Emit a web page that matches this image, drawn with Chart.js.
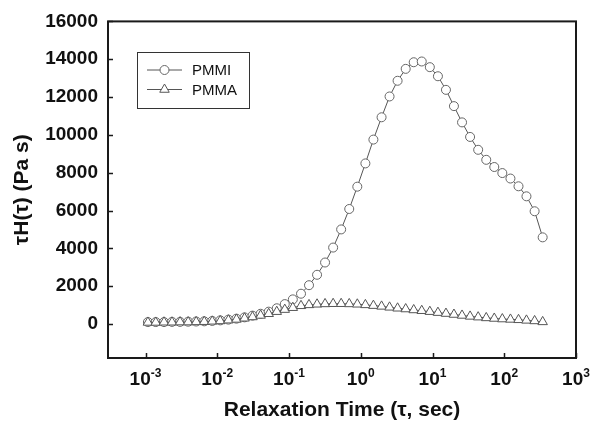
<!DOCTYPE html>
<html>
<head>
<meta charset="utf-8">
<script src="https://cdn.jsdelivr.net/npm/chart.js@4.4.1/dist/chart.umd.min.js"></script>
<style>
  html, body { margin: 0; padding: 0; background: #fff; }
  #wrap { width: 590px; height: 427px; }
</style>
</head>
<body>
<div id="wrap"><canvas id="chart" width="590" height="427"></canvas></div>
<script>
// relaxation times (s)
const tau = [
  0.00108, 0.00139, 0.00181, 0.00234, 0.00303, 0.00393, 0.00508, 0.00658, 0.00851, 0.0110,
  0.0143, 0.0185, 0.0240, 0.0310, 0.0402, 0.0521, 0.0675, 0.0873, 0.113, 0.147,
  0.190, 0.246, 0.318, 0.412, 0.533, 0.691, 0.895, 1.16, 1.50, 1.95,
  2.52, 3.26, 4.23, 5.47, 7.08, 9.18, 11.9, 15.4, 19.9, 25.8,
  33.4, 43.3, 56.1, 72.6, 94.0, 122, 158, 204, 265, 343
];
const pmmi = [
  100, 100, 100, 110, 110, 120, 130, 140, 160, 190,
  230, 280, 350, 440, 540, 650, 830, 1050, 1300, 1600,
  2050, 2600, 3250, 4040, 5000, 6080, 7260, 8490, 9750, 10930,
  12030, 12860, 13490, 13840, 13880, 13580, 13100, 12380, 11520, 10660,
  9890, 9210, 8680, 8300, 7980, 7690, 7280, 6750, 5960, 4580
];
const pmma = [
  80, 80, 90, 90, 100, 100, 110, 120, 140, 160,
  200, 240, 300, 370, 450, 540, 650, 760, 860, 960,
  1010, 1040, 1060, 1070, 1070, 1060, 1040, 1010, 970, 930,
  880, 830, 790, 740, 700, 650, 600, 550, 500, 450,
  400, 360, 320, 290, 260, 240, 220, 190, 160, 110
];
const seriesNames = ['PMMI', 'PMMA'];
const xExps = [-3, -2, -1, 0, 1, 2, 3];
const yTicks = [0, 2000, 4000, 6000, 8000, 10000, 12000, 14000, 16000];

const FONT = '"Liberation Sans", Arial, Helvetica, sans-serif';

const frame = {
  id: 'frame',
  afterDraw(chart) {
    const ctx = chart.ctx;
    const a = chart.chartArea;
    const xs = chart.scales.x, ys = chart.scales.y;
    ctx.save();
    ctx.strokeStyle = '#1a1a1a';
    ctx.lineWidth = 2;
    ctx.strokeRect(a.left, a.top, a.right - a.left, a.bottom - a.top);

    // inward ticks
    ctx.lineWidth = 1.5;
    ctx.beginPath();
    xExps.forEach(e => {
      const px = Math.round(xs.getPixelForValue(Math.pow(10, e))) + 0.5;
      ctx.moveTo(px, a.bottom);
      ctx.lineTo(px, a.bottom - 5);
    });
    yTicks.forEach(v => {
      const py = Math.round(ys.getPixelForValue(v)) + 0.5;
      ctx.moveTo(a.left, py);
      ctx.lineTo(a.left + 5, py);
    });
    ctx.stroke();

    // x tick labels 10^n
    ctx.fillStyle = '#111';
    ctx.textBaseline = 'alphabetic';
    ctx.textAlign = 'left';
    xExps.forEach(e => {
      const px = xs.getPixelForValue(Math.pow(10, e));
      ctx.font = 'bold 19px ' + FONT;
      const w1 = ctx.measureText('10').width;
      ctx.font = 'bold 12px ' + FONT;
      const sup = String(e);
      const w2 = ctx.measureText(sup).width;
      const x0 = px - (w1 + w2) / 2;
      ctx.font = 'bold 19px ' + FONT;
      ctx.fillText('10', x0, a.bottom + 27);
      ctx.font = 'bold 12px ' + FONT;
      ctx.fillText(sup, x0 + w1, a.bottom + 19);
    });

    // legend
    const lx = 137, ly = 52, lw = 112, lh = 56;
    ctx.lineWidth = 1;
    ctx.strokeStyle = '#333';
    ctx.strokeRect(lx + 0.5, ly + 0.5, lw, lh);
    chart.data.datasets.forEach((ds, i) => {
      const y = 70 + i * 19.5;
      ctx.strokeStyle = '#555';
      ctx.lineWidth = 1;
      ctx.beginPath();
      ctx.moveTo(147, y);
      ctx.lineTo(182, y);
      ctx.stroke();
      ctx.fillStyle = '#fff';
      ctx.strokeStyle = ds.pointBorderColor;
      Chart.helpers.drawPoint(ctx, {
        pointStyle: ds.pointStyle, radius: ds.pointRadius, borderWidth: 1
      }, 164.5, y);
      ctx.fillStyle = '#111';
      ctx.font = '15px ' + FONT;
      ctx.textBaseline = 'middle';
      ctx.fillText(ds.label, 192, y + 1);
    });
    ctx.restore();
  }
};

new Chart(document.getElementById('chart'), {
  type: 'line',
  data: {
    datasets: [
      {
        label: seriesNames[0],
        data: tau.map((t, i) => ({ x: t, y: pmmi[i] })),
        borderColor: '#555',
        borderWidth: 1,
        pointStyle: 'circle',
        pointRadius: 4.5,
        pointBorderColor: '#666',
        pointBackgroundColor: '#fff',
        pointBorderWidth: 1,
        order: 1
      },
      {
        label: seriesNames[1],
        data: tau.map((t, i) => ({ x: t, y: pmma[i] })),
        borderColor: '#555',
        borderWidth: 1,
        pointStyle: 'triangle',
        pointRadius: 5.5,
        pointBorderColor: '#555',
        pointBackgroundColor: '#fff',
        pointBorderWidth: 1,
        order: 0
      }
    ]
  },
  options: {
    responsive: false,
    animation: false,
    layout: { padding: { left: 0, right: 14, top: 21, bottom: 0 } },
    plugins: { legend: { display: false }, tooltip: { enabled: false } },
    scales: {
      x: {
        type: 'logarithmic',
        min: 3e-4,
        max: 1000,
        afterBuildTicks: s => { s.ticks = xExps.map(e => ({ value: Math.pow(10, e) })); },
        afterFit: s => { s.height = 69; },
        grid: { display: false },
        border: { display: false },
        ticks: { display: false },
        title: {
          display: true,
          text: 'Relaxation Time (τ, sec)',
          color: '#111',
          font: { family: FONT, size: 21, weight: 'bold' },
          padding: { top: 0, bottom: 4 }
        }
      },
      y: {
        min: -1800,
        max: 16000,
        afterBuildTicks: s => { s.ticks = yTicks.map(v => ({ value: v })); },
        afterFit: s => { s.width = 108; },
        grid: { display: false, drawTicks: false },
        border: { display: false },
        ticks: {
          color: '#111',
          padding: 10,
          font: { family: FONT, size: 19, weight: 'bold' },
          callback: v => String(v)
        },
        title: {
          display: true,
          text: 'τH(τ) (Pa s)',
          color: '#111',
          font: { family: FONT, size: 21, weight: 'bold' },
          padding: { top: 10, bottom: 0 }
        }
      }
    }
  },
  plugins: [frame]
});
</script>
</body>
</html>
